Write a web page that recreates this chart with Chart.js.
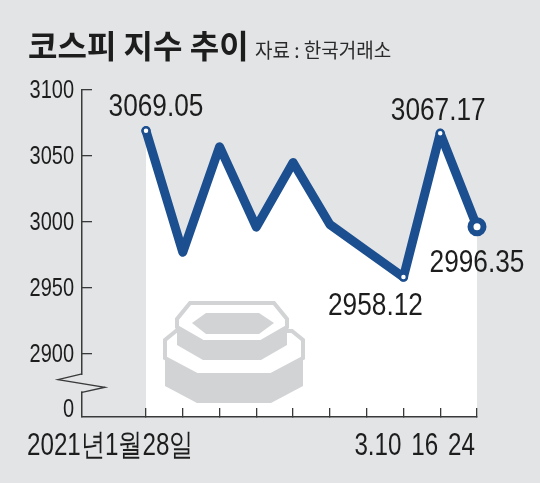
<!DOCTYPE html>
<html lang="ko">
<head>
<meta charset="utf-8">
<title>코스피 지수 추이</title>
<script src="https://cdn.jsdelivr.net/npm/chart.js@4.4.1/dist/chart.umd.min.js"></script>
<style>
  html, body { margin: 0; padding: 0; background: #e3e4e6; }
  #wrap { width: 540px; height: 483px; }
</style>
</head>
<body>
<div id="wrap"><canvas id="chart" width="540" height="483"></canvas></div>
<script>
// data
const titleText = "코스피 지수 추이";
const sourceText = "자료 : 한국거래소";
const dates = ["2021년1월28일", "", "", "", "", "", "", "3.10", "16", "24"];
const kospi = [3069.05, 2977, 3057, 2996, 3045, 2998, 2978, 2958.12, 3067.17, 2996.35];
const valueLabels = ["3069.05", "", "", "", "", "", "", "2958.12", "3067.17", "2996.35"];
const yTicks = [2900, 2950, 3000, 3050, 3100];
// broken axis: the bottom of the axis stands for 0
const yMin = 2852;
const yZero = 2858;

const numFont = '"Liberation Sans", Arial, sans-serif';
const krFont = '"Noto Sans CJK KR", sans-serif';
const paper = "#e3e4e6";
const lineColor = "#1c4f8f";
const ink = "#1d1d1d";
const axisColor = "#3a3a3a";
const iconGray = "#d2d3d5";

const lastIdx = kospi.length - 1;
const yLabel = v => v === yZero ? "0" : String(v);

// the paper uses a condensed face, so squeeze the text sideways
function narrowText(ctx, text, x, y, align, sx) {
  ctx.save();
  ctx.translate(x, y);
  ctx.scale(sx, 1);
  ctx.textAlign = align;
  ctx.fillText(text, 0, 0);
  ctx.restore();
}

function tier(ctx, cx, top, hw, c, k, s, faceH, c2, depth) {
  const side1 = top + k, side2 = top + k + s, bot = top + faceH;
  // side of the coin
  ctx.beginPath();
  ctx.moveTo(cx - hw, side1);
  ctx.lineTo(cx + hw, side1);
  ctx.lineTo(cx + hw, side2 + depth);
  ctx.lineTo(cx + hw - c2, bot + depth);
  ctx.lineTo(cx - hw + c2, bot + depth);
  ctx.lineTo(cx - hw, side2 + depth);
  ctx.closePath();
  ctx.fillStyle = iconGray;
  ctx.fill();
  // top face
  ctx.beginPath();
  ctx.moveTo(cx - hw + c, top);
  ctx.lineTo(cx + hw - c, top);
  ctx.lineTo(cx + hw, side1);
  ctx.lineTo(cx + hw, side2);
  ctx.lineTo(cx + hw - c2, bot);
  ctx.lineTo(cx - hw + c2, bot);
  ctx.lineTo(cx - hw, side2);
  ctx.lineTo(cx - hw, side1);
  ctx.closePath();
  ctx.fillStyle = "#ffffff";
  ctx.fill();
  ctx.lineWidth = 4;
  ctx.strokeStyle = iconGray;
  ctx.stroke();
}

const decor = {
  id: "decor",
  afterDatasetsDraw(chart) {
    const ctx = chart.ctx;
    ctx.save();
    // coin stack decoration (sits in the white area under the line)
    tier(ctx, 234, 331, 69, 11, 9, 18, 44, 32, 28);
    tier(ctx, 232, 303, 55, 13, 16, 8, 39, 26, 18);
    ctx.beginPath();
    ctx.moveTo(192, 323);
    ctx.lineTo(206, 313);
    ctx.lineTo(259, 313);
    ctx.lineTo(274, 323);
    ctx.lineTo(259, 334);
    ctx.lineTo(206, 334);
    ctx.closePath();
    ctx.fillStyle = iconGray;
    ctx.fill();
    ctx.restore();
  },
  afterDraw(chart) {
    const ctx = chart.ctx;
    const xs = chart.scales.x, ys = chart.scales.y;
    ctx.save();

    // title + source
    ctx.fillStyle = ink;
    ctx.textBaseline = "alphabetic";
    ctx.textAlign = "left";
    ctx.font = "bold 32px " + krFont;
    ctx.fillText(titleText, 28, 58);
    ctx.font = "20px " + krFont;
    ctx.fillStyle = "#2a2a2a";
    narrowText(ctx, sourceText, 255, 58, "left", 0.95);

    // y tick labels
    ctx.fillStyle = ink;
    ctx.font = "25px " + numFont;
    ctx.textBaseline = "middle";
    ys.ticks.forEach(t => {
      narrowText(ctx, yLabel(t.value), ys.right - 8, ys.getPixelForValue(t.value) + 1, "right", 0.8);
    });

    // axis break
    const axX = ys.right;
    const y29 = ys.getPixelForValue(2900);
    const yb = ys.bottom;
    const seg = yb - y29;
    const b1 = y29 + seg * 0.32, b2 = y29 + seg * 0.41, b3 = y29 + seg * 0.53, b4 = y29 + seg * 0.61;
    ctx.fillStyle = paper;
    ctx.fillRect(axX - 3, b1 + 1, 6, b4 - b1 - 2);
    ctx.beginPath();
    ctx.moveTo(axX, b1);
    ctx.lineTo(axX - 24, b2);
    ctx.lineTo(axX + 23, b3);
    ctx.lineTo(axX, b4);
    ctx.lineWidth = 1.3;
    ctx.strokeStyle = axisColor;
    ctx.stroke();

    // value labels
    ctx.textBaseline = "alphabetic";
    const pts = chart.getDatasetMeta(0).data;
    const off = { 0: [10, -15], 7: [-28, 38], 8: [-2, -13], 9: [0, 45] };
    ctx.fillStyle = ink;
    ctx.font = "32px " + numFont;
    valueLabels.forEach((t, i) => {
      if (!t) return;
      const o = off[i] || [0, -14];
      narrowText(ctx, t, pts[i].x + o[0], pts[i].y + o[1], "center", 0.82);
    });

    // x labels
    ctx.font = "31px " + numFont;
    const base = xs.top + 38;
    dates.forEach((d, i) => {
      if (!d) return;
      const px = xs.getPixelForValue(i);
      if (i === 0) {
        narrowText(ctx, d, px - 119, base, "left", 0.78);
      } else {
        narrowText(ctx, d, px - 2, base, "right", 0.78);
      }
    });
    ctx.restore();
  }
};

const isMarked = i => valueLabels[i] !== "";
const markR = c => c.dataIndex === lastIdx ? 6.5 : (isMarked(c.dataIndex) ? 3.5 : 0);

new Chart(document.getElementById("chart"), {
  type: "line",
  data: {
    datasets: [{
      data: kospi.map((v, i) => ({ x: i, y: v })),
      borderColor: lineColor,
      borderWidth: 9,
      borderJoinStyle: "round",
      borderCapStyle: "round",
      tension: 0,
      clip: false,
      fill: "start",
      backgroundColor: "#ffffff",
      pointRadius: markR,
      pointHoverRadius: markR,
      pointBorderWidth: c => c.dataIndex === lastIdx ? 6 : 2.5,
      pointBackgroundColor: "#ffffff",
      pointBorderColor: lineColor
    }]
  },
  options: {
    responsive: false,
    animation: false,
    events: [],
    layout: { padding: { top: 90, right: 63, left: 0, bottom: 0 } },
    plugins: { legend: { display: false }, tooltip: { enabled: false } },
    scales: {
      x: {
        type: "linear",
        min: -1.74,
        max: 9,
        afterBuildTicks: s => { s.ticks = dates.map((d, i) => ({ value: i })); },
        afterFit: s => { s.height = 66; },
        ticks: { display: false },
        // drawn above the white fill so the tick marks stay visible
        grid: { z: 1, drawOnChartArea: false, tickLength: -9, color: axisColor, lineWidth: 1.3 },
        border: { z: 1, color: axisColor, width: 1.5 }
      },
      y: {
        min: yMin,
        max: 3100,
        afterBuildTicks: s => { s.ticks = [yZero].concat(yTicks).map(v => ({ value: v })); },
        afterFit: s => { s.width = 82; },
        ticks: { display: false, callback: yLabel },
        grid: {
          drawOnChartArea: false,
          tickLength: -10,
          color: c => (c.tick && c.tick.value === yZero) ? "rgba(0,0,0,0)" : axisColor,
          lineWidth: 1.3
        },
        border: { color: axisColor, width: 1.5 }
      }
    }
  },
  plugins: [decor]
});
</script>
</body>
</html>
